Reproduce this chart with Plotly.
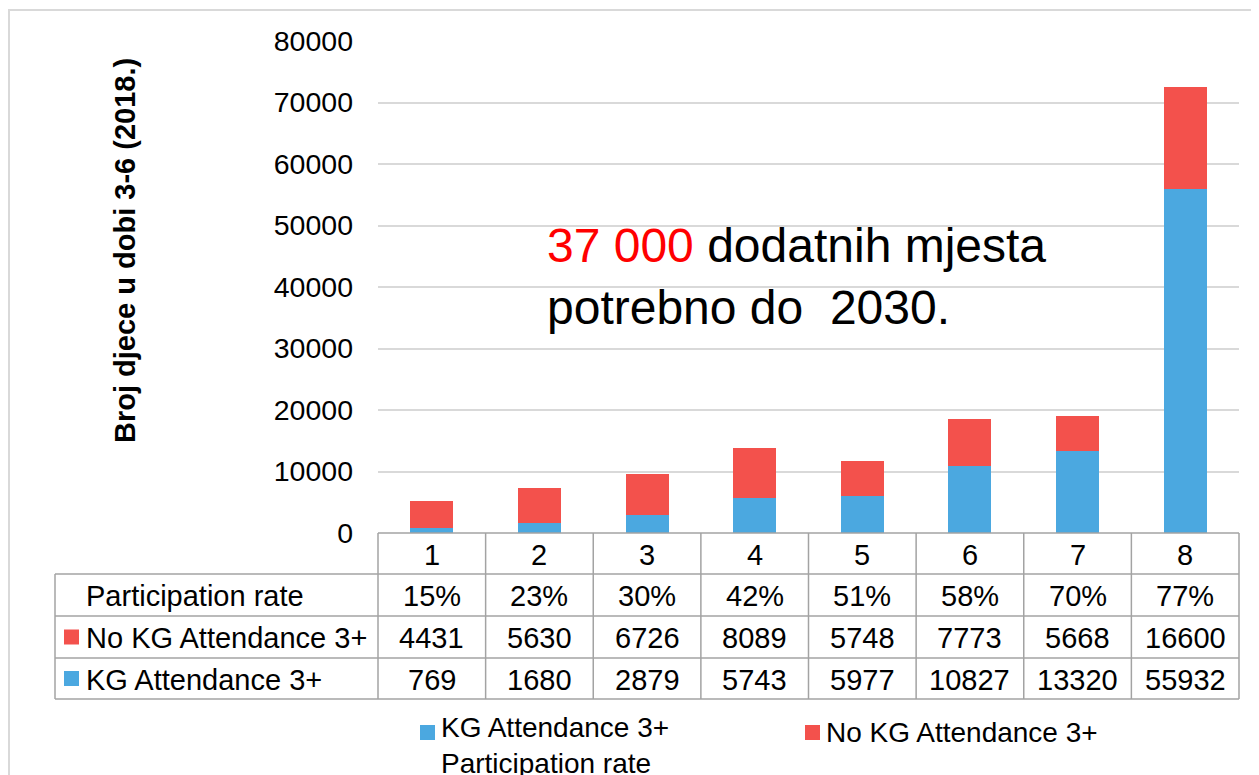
import plotly.graph_objects as go

W, H = 1259, 775

categories = [1, 2, 3, 4, 5, 6, 7, 8]
participation_rate = ["15%", "23%", "30%", "42%", "51%", "58%", "70%", "77%"]
no_kg_attendance = [4431, 5630, 6726, 8089, 5748, 7773, 5668, 16600]
kg_attendance = [769, 1680, 2879, 5743, 5977, 10827, 13320, 55932]
y_ticks = [0, 10000, 20000, 30000, 40000, 50000, 60000, 70000, 80000]

BLUE = "#4BA8E0"
RED = "#F3514C"
FONT = "Arial, Liberation Sans, sans-serif"
GRID = "#D9D9D9"
TBL = "#A3A3A3"

OFF = 8  # page body margin


def px(x):
    return (x - OFF) / W


def py(y):
    return 1 - (y - OFF) / H


X0, X1 = 378, 1239
Y_BOT, Y_TOP = 533, 41

fig = go.Figure()
fig.add_trace(go.Bar(
    x=categories, y=kg_attendance, name="KG Attendance 3+",
    marker=dict(color=BLUE, line=dict(width=0)), width=0.4,
))
fig.add_trace(go.Bar(
    x=categories, y=no_kg_attendance, name="No KG Attendance 3+",
    marker=dict(color=RED, line=dict(width=0)), width=0.4,
))

shapes = []
annotations = []

# outer frame
shapes.append(dict(type="rect", xref="paper", yref="paper",
                   x0=px(9), x1=px(1290), y0=py(800), y1=py(10),
                   line=dict(color="#D9D9D9", width=2), fillcolor="rgba(0,0,0,0)",
                   layer="below"))

# data table geometry
row_lines = [533, 574, 616, 658, 699]
n = len(categories)
col_w = (X1 - X0) / n
col_edges = [X0 + i * col_w for i in range(n + 1)]
TL = 55

shapes.append(dict(type="line", xref="paper", yref="paper", x0=px(X0), x1=px(X1),
                   y0=py(row_lines[0]), y1=py(row_lines[0]), line=dict(color=TBL, width=1.5)))
for yl in row_lines[1:]:
    shapes.append(dict(type="line", xref="paper", yref="paper", x0=px(TL), x1=px(X1),
                       y0=py(yl), y1=py(yl), line=dict(color=TBL, width=1.5)))
shapes.append(dict(type="line", xref="paper", yref="paper", x0=px(TL), x1=px(TL),
                   y0=py(row_lines[1]), y1=py(row_lines[-1]), line=dict(color=TBL, width=1.5)))
for xe in col_edges:
    shapes.append(dict(type="line", xref="paper", yref="paper", x0=px(xe), x1=px(xe),
                       y0=py(row_lines[0]), y1=py(row_lines[-1]), line=dict(color=TBL, width=1.5)))

row_centers = [(row_lines[i] + row_lines[i + 1]) / 2 for i in range(4)]
rows = [
    [str(c) for c in categories],
    participation_rate,
    [str(v) for v in no_kg_attendance],
    [str(v) for v in kg_attendance],
]
for r, vals in enumerate(rows):
    for c, v in zip(categories, vals):
        annotations.append(dict(x=c, xref="x", y=py(row_centers[r] + 1), yref="paper",
                                text=v, showarrow=False, xanchor="center", yanchor="middle",
                                font=dict(family=FONT, size=29, color="black")))

row_labels = ["Participation rate", "No KG Attendance 3+", "KG Attendance 3+"]
for r, lab in enumerate(row_labels):
    annotations.append(dict(x=px(84), xref="paper", y=py(row_centers[r + 1] + 1), yref="paper",
                            text=lab, showarrow=False, xanchor="left", yanchor="middle",
                            font=dict(family=FONT, size=29, color="black")))
for r, col in [(2, RED), (3, BLUE)]:
    cy = row_centers[r]
    shapes.append(dict(type="rect", xref="paper", yref="paper",
                       x0=px(64), x1=px(79), y0=py(cy + 7.5), y1=py(cy - 7.5),
                       fillcolor=col, line=dict(width=0)))

# y-axis title
annotations.append(dict(x=px(125), xref="paper", y=py(251), yref="paper",
                        text="<b>Broj djece u dobi 3-6 (2018.)</b>", textangle=-90,
                        showarrow=False, xanchor="center", yanchor="middle",
                        font=dict(family=FONT, size=29, color="black")))

# callout text
annotations.append(dict(x=px(545), xref="paper", y=py(276), yref="paper",
                        text="<span style='color:#FF0000'>37 000</span> dodatnih mjesta<br>potrebno do&nbsp; 2030.",
                        align="left", showarrow=False, xanchor="left", yanchor="middle",
                        font=dict(family=FONT, size=48, color="black")))

# bottom legend (drawn manually so it does not push margins)
legend_items = [
    (fig.data[0].name + "<br>Participation rate", BLUE, 420, 745),
    (fig.data[1].name, RED, 805, 732),
]
for label, col, lx, ly in legend_items:
    shapes.append(dict(type="rect", xref="paper", yref="paper",
                       x0=px(lx), x1=px(lx + 15), y0=py(740), y1=py(725),
                       fillcolor=col, line=dict(width=0)))
    annotations.append(dict(x=px(lx + 19), xref="paper", y=py(ly), yref="paper",
                            text=label, showarrow=False, xanchor="left", yanchor="middle",
                            align="left",
                            font=dict(family=FONT, size=28, color="black")))

fig.update_layout(
    width=W, height=H, autosize=False,
    margin=dict(l=0, r=0, t=0, b=0, pad=0),
    paper_bgcolor="white", plot_bgcolor="white",
    barmode="stack",
    showlegend=False,
    xaxis=dict(domain=[px(X0), px(X1)], range=[0.5, 8.5], showticklabels=False,
               showgrid=False, zeroline=False, showline=False, ticks="", automargin=False),
    yaxis=dict(domain=[py(Y_BOT), py(Y_TOP)], range=[0, 80000], tickvals=y_ticks,
               ticktext=[str(v) for v in y_ticks], showgrid=True, gridcolor=GRID, gridwidth=1.5,
               zeroline=False, showline=False, ticks="", ticklabelstandoff=24, automargin=False,
               tickfont=dict(family=FONT, size=28.5, color="black")),
    shapes=shapes,
    annotations=annotations,
)

fig.write_html("out.html")
